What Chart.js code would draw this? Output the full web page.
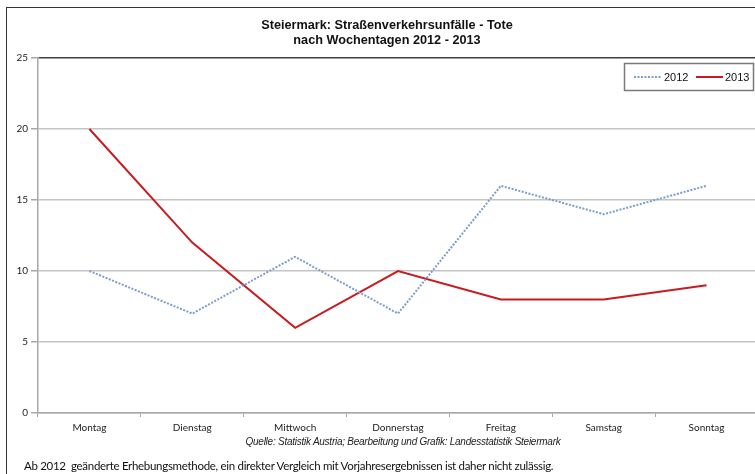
<!DOCTYPE html>
<html>
<head>
<meta charset="utf-8">
<script src="https://cdn.jsdelivr.net/npm/chart.js@4"></script>
<style>
  html, body { margin: 0; padding: 0; background: #fff; overflow: hidden; }
  #page { position: relative; width: 755px; height: 474px; overflow: hidden; }
  #frame { position: absolute; left: 6px; top: 7px; width: 800px; height: 500px; border: 1px solid #333; box-sizing: border-box; }
  #wrap { position: absolute; left: 0; top: 0; width: 775px; height: 474px; }
  .title { position: absolute; left: 187px; width: 400px; text-align: center; font: bold 12.7px "Liberation Sans", Arial, sans-serif; color: #111; }
  #source { position: absolute; left: 200px; width: 406px; top: 436px; text-align: center; font: italic 10px "Liberation Sans", Arial, sans-serif; color: #222; letter-spacing: -0.25px; }
  #note { position: absolute; left: 24px; top: 459px; font: 11.5px Lato, "Open Sans", sans-serif; color: #111; white-space: pre; letter-spacing: -0.3px; }
</style>
</head>
<body>
<div id="page">
  <div id="frame"></div>
  <div id="wrap"><canvas id="chart"></canvas></div>
  <div class="title" style="top:18px">Steiermark: Straßenverkehrsunfälle - Tote</div>
  <div class="title" style="top:33px">nach Wochentagen 2012 - 2013</div>
  <div id="source">Quelle: Statistik Austria; Bearbeitung und Grafik: Landesstatistik Steiermark</div>
  <div id="note">Ab 2012  geänderte Erhebungsmethode, ein direkter Vergleich mit Vorjahresergebnissen ist daher nicht zulässig.</div>
</div>
<script>
const days = ["Montag", "Dienstag", "Mittwoch", "Donnerstag", "Freitag", "Samstag", "Sonntag"];
const deaths2012 = [10, 7, 11, 7, 16, 14, 16];
const deaths2013 = [20, 12, 6, 10, 8, 8, 9];
const yTicks = [0, 5, 10, 15, 20, 25];

// Legende im Kasten oben rechts
const boxLegend = {
  id: "boxLegend",
  afterDraw(chart) {
    const ctx = chart.ctx;
    ctx.save();
    ctx.fillStyle = "#fff";
    ctx.fillRect(624, 63, 130, 28);
    ctx.strokeStyle = "#7a7a7a";
    ctx.lineWidth = 1.5;
    ctx.strokeRect(624.5, 63.5, 129, 27);
    const items = [
      { x: 634, tx: 664 },
      { x: 696, tx: 725 }
    ];
    chart.data.datasets.forEach((ds, i) => {
      const it = items[i];
      ctx.beginPath();
      ctx.strokeStyle = ds.borderColor;
      ctx.lineWidth = ds.borderWidth;
      ctx.setLineDash(ds.borderDash || []);
      ctx.moveTo(it.x, 77);
      ctx.lineTo(it.x + 27, 77);
      ctx.stroke();
      ctx.setLineDash([]);
      ctx.fillStyle = "#111";
      ctx.font = "11px 'Liberation Sans', Arial, sans-serif";
      ctx.textBaseline = "middle";
      ctx.fillText(ds.label, it.tx, 77.5);
    });
    ctx.restore();
  }
};

new Chart(document.getElementById("chart"), {
  type: "line",
  plugins: [boxLegend],
  data: {
    labels: days,
    datasets: [
      {
        label: "2012",
        data: deaths2012,
        borderColor: "#7e9cc9",
        borderWidth: 2,
        borderDash: [2, 1.5],
        pointRadius: 0,
        tension: 0
      },
      {
        label: "2013",
        data: deaths2013,
        borderColor: "#c81a1f",
        borderWidth: 2,
        pointRadius: 0,
        tension: 0
      }
    ]
  },
  options: {
    responsive: true,
    maintainAspectRatio: false,
    animation: false,
    layout: { padding: { top: 58, right: 17, left: 0, bottom: 0 } },
    plugins: {
      legend: { display: false },
      tooltip: { enabled: false }
    },
    scales: {
      x: {
        offset: true,
        afterFit: (s) => { s.height = 61; },
        grid: {
          offset: true,
          drawOnChartArea: false,
          tickLength: 4,
          color: "#a8a8a8"
        },
        border: { color: "#a8a8a8", width: 1.5 },
        ticks: {
          color: "#222",
          padding: 5,
          font: { family: "Lato, 'Open Sans', sans-serif", size: 10 }
        }
      },
      y: {
        min: 0,
        max: 25,
        afterFit: (s) => { s.width = 38; },
        afterBuildTicks: (s) => { s.ticks = yTicks.map((v) => ({ value: v })); },
        grid: {
          color: (c) => (c.tick && c.tick.value === 25 ? "#404040" : "#c4c4c4"),
          lineWidth: 1.5,
          tickLength: 7,
          tickColor: "#a8a8a8"
        },
        border: { color: "#a8a8a8", width: 1.5 },
        ticks: {
          color: "#222",
          padding: 3,
          font: { family: "Lato, 'Open Sans', sans-serif", size: 10 }
        }
      }
    }
  }
});
</script>
</body>
</html>
